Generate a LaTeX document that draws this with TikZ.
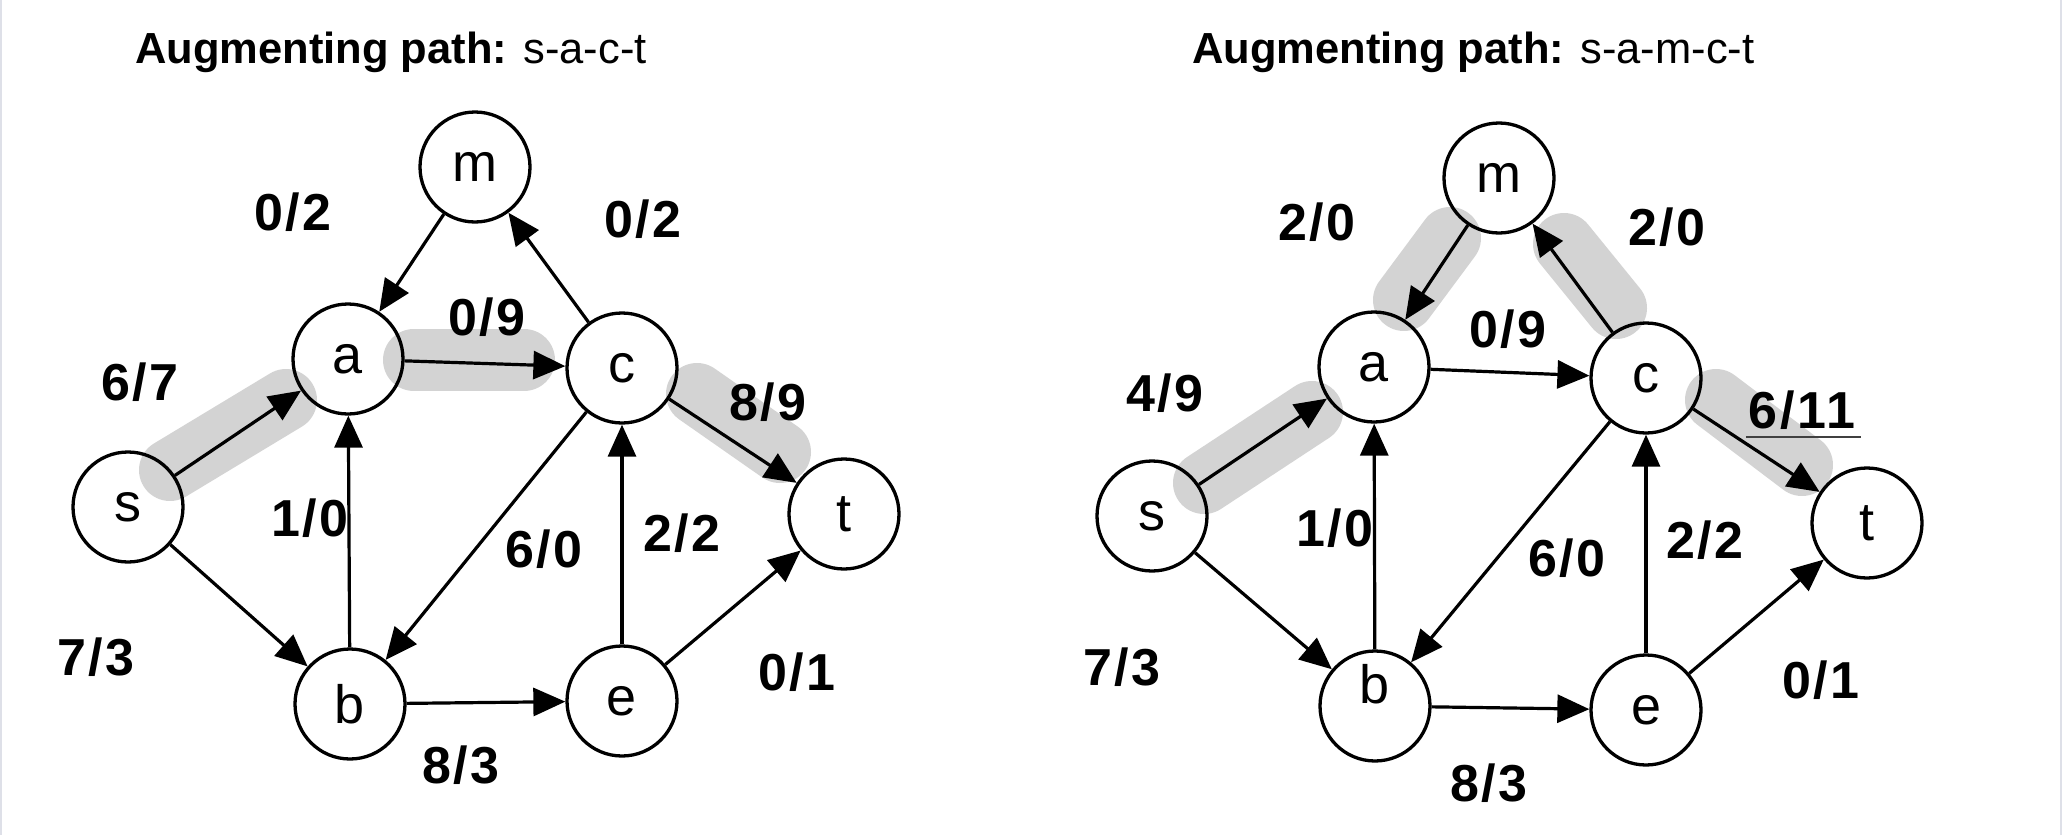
\documentclass[tikz,border=0pt]{standalone}
\usepackage{fontspec}
\setmainfont{Liberation Sans}
\newfontfamily\lblfont[LetterSpace=5]{Liberation Sans}
\usetikzlibrary{arrows.meta}
\definecolor{hlgray}{RGB}{211,211,211}
\definecolor{bordergray}{RGB}{222,224,232}
\definecolor{ulgray}{RGB}{64,64,64}
\tikzset{
  vert/.style={circle, draw, line width=3.3pt, minimum size=110pt, inner sep=0pt, font=\fontsize{54}{54}\selectfont},
  edge/.style={line width=3.2pt, -{Triangle[length=32pt,width=28pt]}},
  hl/.style={line width=62pt, line cap=round, draw=hlgray},
  lbl/.style={inner sep=0pt, font=\lblfont\bfseries\fontsize{52}{52}\selectfont},
  ttl/.style={inner sep=0pt, anchor=base west, font=\fontsize{43.5}{44}\selectfont}
}
\begin{document}
\begin{tikzpicture}[x=1pt,y=-1pt]
\useasboundingbox (0,0) rectangle (2062,835);
\draw[bordergray, line width=2pt] (1,0) -- (1,835);
\draw[bordergray, line width=2pt] (2061,0) -- (2061,835);

% titles
\node[ttl] (T1) at (135,63) {\bfseries Augmenting path: \mdseries s-a-c-t};
\node[ttl] (T2) at (1192,63) {\bfseries Augmenting path: \mdseries s-a-m-c-t};

% highlights (left)
\coordinate (h1a) at (170,470); \coordinate (h1b) at (286,400);
\coordinate (h2a) at (414,360); \coordinate (h2b) at (524,360);
\coordinate (h3a) at (697,394); \coordinate (h3b) at (780,452);
\draw[hl] (h1a) -- (h1b);
\draw[hl] (h2a) -- (h2b);
\draw[hl] (h3a) -- (h3b);
% highlights (right)
\coordinate (k1a) at (1204,483); \coordinate (k1b) at (1312,412);
\coordinate (k2a) at (1450,238); \coordinate (k2b) at (1404,300);
\coordinate (k3a) at (1564,244); \coordinate (k3b) at (1616,308);
\coordinate (k4a) at (1716,400); \coordinate (k4b) at (1802,465);
\draw[hl] (k1a) -- (k1b);
\draw[hl] (k2a) -- (k2b);
\draw[hl] (k3a) -- (k3b);
\draw[hl] (k4a) -- (k4b);

% left graph nodes
\node[vert] (m1) at (475,167) {m};
\node[vert] (a1) at (348,359) {a};
\node[vert] (c1) at (622,368) {c};
\node[vert] (s1) at (128,507) {s};
\node[vert] (t1) at (844,514) {t};
\node[vert] (b1) at (350,704) {b};
\node[vert] (e1) at (622,701) {e};

\draw[edge] (m1) -- (a1);
\draw[edge] (c1) -- (m1);
\draw[edge] (a1) -- (c1);
\draw[edge] (s1) -- (a1);
\draw[edge] (c1) -- (t1);
\draw[edge] (s1) -- (b1);
\draw[edge] (b1) -- (a1);
\draw[edge] (c1) -- (b1);
\draw[edge] (e1) -- (c1);
\draw[edge] (b1) -- (e1);
\draw[edge] (e1) -- (t1);

\node[lbl] (l1a) at (293,212) {0/2};
\node[lbl] (l1b) at (643,219) {0/2};
\node[lbl] (l1c) at (487,317) {0/9};
\node[lbl] (l1d) at (140,382) {6/7};
\node[lbl] (l1e) at (768,402) {8/9};
\node[lbl] (l1f) at (310,518) {1/0};
\node[lbl] (l1g) at (544,549) {6/0};
\node[lbl] (l1h) at (682,533) {2/2};
\node[lbl] (l1i) at (96,657) {7/3};
\node[lbl] (l1j) at (797,672) {0/1};
\node[lbl] (l1k) at (461,765) {8/3};

% right graph nodes
\node[vert] (m2) at (1499,178) {m};
\node[vert] (a2) at (1374,367) {a};
\node[vert] (c2) at (1646,378) {c};
\node[vert] (s2) at (1152,516) {s};
\node[vert] (t2) at (1867,523) {t};
\node[vert] (b2) at (1375,706) {\raisebox{22pt}[\height][\depth]{b}};
\node[vert] (e2) at (1646,710) {e};

\draw[edge] (m2) -- (a2);
\draw[edge] (c2) -- (m2);
\draw[edge] (a2) -- (c2);
\draw[edge] (s2) -- (a2);
\draw[edge] (c2) -- (t2);
\draw[edge] (s2) -- (b2);
\draw[edge] (b2) -- (a2);
\draw[edge] (c2) -- (b2);
\draw[edge] (e2) -- (c2);
\draw[edge] (b2) -- (e2);
\draw[edge] (e2) -- (t2);

\node[lbl] (l2a) at (1317,222) {2/0};
\node[lbl] (l2b) at (1667,227) {2/0};
\node[lbl] (l2c) at (1508,329) {0/9};
\node[lbl] (l2d) at (1165,393) {4/9};
\node[lbl] (l2e) at (1802,410) {6/11};
\node[lbl] (l2f) at (1335,528) {1/0};
\node[lbl] (l2g) at (1567,558) {6/0};
\node[lbl] (l2h) at (1705,540) {2/2};
\node[lbl] (l2i) at (1122,667) {7/3};
\node[lbl] (l2j) at (1821,680) {0/1};
\node[lbl] (l2k) at (1489,783) {8/3};
\draw[ulgray, line width=2pt] ([xshift=-3pt,yshift=-7pt]l2e.south west) -- ([xshift=6pt,yshift=-7pt]l2e.south east);
\end{tikzpicture}
\end{document}
